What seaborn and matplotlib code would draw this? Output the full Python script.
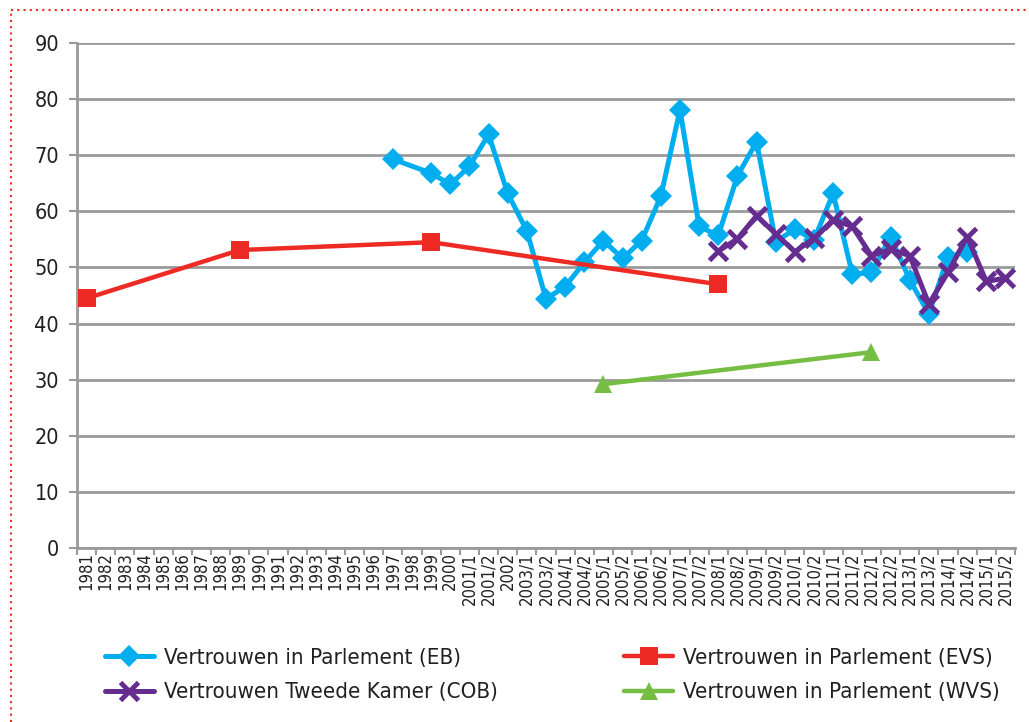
import numpy as np
import pandas as pd
import matplotlib
matplotlib.use("Agg")
import matplotlib.pyplot as plt
from matplotlib import font_manager
from matplotlib.lines import Line2D
import seaborn as sns

categories = [str(y) for y in range(1981, 1997)] + [
    "1997", "1998", "1999", "2000", "2001/1", "2001/2", "2002",
    "2003/1", "2003/2", "2004/1", "2004/2", "2005/1", "2005/2",
    "2006/1", "2006/2", "2007/1", "2007/2", "2008/1", "2008/2",
    "2009/1", "2009/2", "2010/1", "2010/2", "2011/1", "2011/2",
    "2012/1", "2012/2", "2013/1", "2013/2", "2014/1", "2014/2",
    "2015/1", "2015/2"]

eb_labels = ["1997", "1999", "2000", "2001/1", "2001/2", "2002", "2003/1",
             "2003/2", "2004/1", "2004/2", "2005/1", "2005/2", "2006/1",
             "2006/2", "2007/1", "2007/2", "2008/1", "2008/2", "2009/1",
             "2009/2", "2010/1", "2010/2", "2011/1", "2011/2", "2012/1",
             "2012/2", "2013/1", "2013/2", "2014/1", "2014/2"]
eb_values = [69.3, 66.8, 64.8, 68.0, 73.7, 63.2, 56.5, 44.4, 46.6, 50.9,
             54.8, 51.6, 54.8, 62.7, 78.1, 57.3, 55.7, 66.3, 72.4, 54.6,
             56.8, 54.9, 63.2, 48.8, 49.1, 55.5, 47.8, 41.7, 51.9, 52.8]

evs_labels = ["1981", "1989", "1999", "2008/1"]
evs_values = [44.5, 53.1, 54.5, 47.0]

cob_labels = ["2008/1", "2008/2", "2009/1", "2009/2", "2010/1", "2010/2",
              "2011/1", "2011/2", "2012/1", "2012/2", "2013/1", "2013/2",
              "2014/1", "2014/2", "2015/1", "2015/2"]
cob_values = [52.9, 55.1, 59.2, 56.0, 52.8, 55.2, 58.5, 57.3, 52.1, 53.2,
              52.1, 43.5, 49.1, 55.5, 47.5, 48.1]

wvs_labels = ["2005/1", "2012/1"]
wvs_values = [29.2, 34.9]

y_ticks = [0, 10, 20, 30, 40, 50, 60, 70, 80, 90]

# pick a condensed face if one is installed
condensed = None
for f in font_manager.fontManager.ttflist:
    if f.style == "normal" and f.weight in (400, "normal", "regular") and \
            (f.stretch in ("condensed", "semi-condensed", "extra-condensed") or
             "Narrow" in f.name or "Condensed" in f.name):
        condensed = f
        break

sns.set_theme(style="white")
if condensed is not None:
    plt.rcParams["font.family"] = [condensed.name, "DejaVu Sans"]
    plt.rcParams["font.stretch"] = condensed.stretch
    scale = 1.0
else:
    plt.rcParams["font.family"] = ["Roboto", "DejaVu Sans"]
    scale = 0.9
text_color = "#231F20"
grid_color = "#9A9A9A"

fig = plt.figure(figsize=(10.29, 7.22), dpi=100)
ax = fig.add_axes([77 / 1029, 1 - 548 / 722, (1015 - 77) / 1029, (548 - 43) / 722])

pos = {c: i for i, c in enumerate(categories)}

series = [
    ("Vertrouwen in Parlement (EB)", eb_labels, eb_values, "#00AEEF", "D", 11, 3.6, 0),
    ("Vertrouwen Tweede Kamer (COB)", cob_labels, cob_values, "#662D91", "x", 13, 3.6, 3.5),
    ("Vertrouwen in Parlement (EVS)", evs_labels, evs_values, "#EE2A24", "s", 13, 3.2, 0),
    ("Vertrouwen in Parlement (WVS)", wvs_labels, wvs_values, "#76BD43", "^", 13, 3.2, 0),
]

for name, labs, vals, color, marker, ms, lw, mew in series:
    df = pd.DataFrame({"x": [pos[l] for l in labs], "y": vals})
    kw = dict(markeredgewidth=mew, markeredgecolor=color) if marker == "x" else dict(markeredgewidth=0)
    sns.lineplot(data=df, x="x", y="y", ax=ax, color=color, linewidth=lw,
                 marker=marker, markersize=ms, label=name, legend=False,
                 solid_capstyle="round", zorder=3, **kw)

ax.set_xlim(-0.5, len(categories) - 0.5)
ax.set_ylim(0, 90)
ax.set_yticks(y_ticks)
ax.set_yticklabels([str(v) for v in y_ticks], fontsize=15.5 * scale, color=text_color)
ax.yaxis.grid(True, color=grid_color, linewidth=2)
ax.set_axisbelow(True)

ax.set_xticks(np.arange(len(categories) + 1) - 0.5)
ax.set_xticklabels([])
ax.set_xticks(np.arange(len(categories)), minor=True)
ax.set_xticklabels(categories, minor=True, rotation=90, fontsize=12 * scale,
                   color=text_color, va="top", ha="center")
ax.tick_params(axis="x", which="major", length=5, width=1.5, color=grid_color, direction="out", bottom=True)
ax.tick_params(axis="x", which="minor", length=0, pad=3)
ax.tick_params(axis="y", length=6, width=1.5, color=grid_color, direction="out", left=True, pad=7)

for s in ["top", "right"]:
    ax.spines[s].set_visible(False)
for s in ["left", "bottom"]:
    ax.spines[s].set_color(grid_color)
    ax.spines[s].set_linewidth(2)
ax.set_xlabel("")
ax.set_ylabel("")

handles, labels = ax.get_legend_handles_labels()
leg = fig.legend(handles, labels, ncol=2, loc="upper left",
                 bbox_to_anchor=(85 / 1029, 1 - 628 / 722), frameon=False,
                 fontsize=16 * scale, handlelength=2.2, columnspacing=5.7,
                 handletextpad=0.45, labelspacing=0.65, labelcolor=text_color)

# dotted red frame (top and left)
fig.add_artist(Line2D([11 / 1029, 1.0], [1 - 10 / 722, 1 - 10 / 722], transform=fig.transFigure,
                      color="#EE2A24", linestyle=(0, (1, 2)), linewidth=1.5))
fig.add_artist(Line2D([11 / 1029, 11 / 1029], [0, 1 - 10 / 722], transform=fig.transFigure,
                      color="#EE2A24", linestyle=(0, (1, 2)), linewidth=1.5))

fig.savefig("out.png", dpi=100, facecolor="white")
